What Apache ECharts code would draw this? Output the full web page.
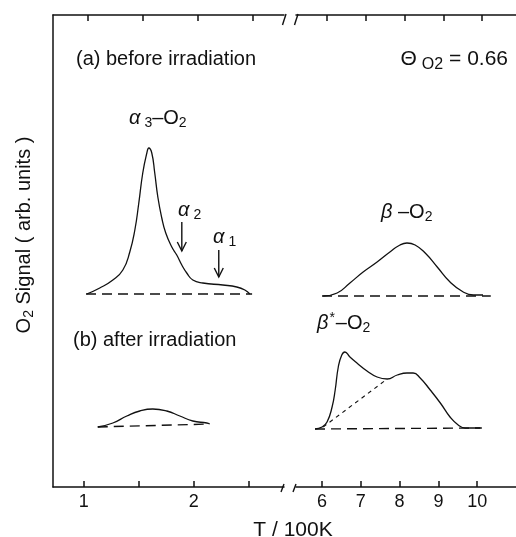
<!DOCTYPE html>
<html><head><meta charset="utf-8">
<script src="https://cdn.jsdelivr.net/npm/echarts@6/dist/echarts.min.js"></script>
<style>html,body{margin:0;padding:0;background:#fff}#c{width:516px;height:537px}</style>
</head><body><div id="c"></div>
<script>
// ---- data (T in 100 K, signal in arbitrary units) ----
const aLowT   = [1.027,1.145,1.264,1.355,1.418,1.464,1.500,1.536,1.573,1.591,1.618,1.645,1.673,1.709,1.745,1.800,1.845,1.891,1.936,1.991,2.082,2.264,2.391,2.464,2.509];
const aLowSig = [193,199,207,217,235,257,284,314,334,339,334,314,290,269,254,240,232,222,214,207,204,202,200,197,193];
const aLowBaseT = [1.02, 2.53];
const aLowBaseSig = [193, 193];

const bLowT   = [1.127,1.264,1.391,1.509,1.627,1.755,1.873,1.991,2.118,2.145];
const bLowSig = [60,64,71,76,78,76,71,66,64,63];
const bLowBaseT = [1.127, 2.145];
const bLowBaseSig = [60, 63];

const aHighT   = [6.03,6.39,6.72,7.06,7.42,7.75,8.01,8.19,8.40,8.66,8.97,9.30,9.64,9.90,10.15];
const aHighSig = [191,194,204,215,225,235,242,244,242,234,220,205,195,192,192];
const aHighBaseT = [6.0, 10.35];
const aHighBaseSig = [191, 191];

const bHighT   = [5.82,6.0,6.13,6.26,6.34,6.42,6.51,6.59,6.72,6.90,7.16,7.42,7.68,7.94,8.19,8.35,8.53,8.79,9.05,9.30,9.51,9.69,10.08];
const bHighSig = [58,60,65,80,97,120,132,135,130,124,116,110,108,112,114,114,109,97,84,70,62,59,59];
const bHighBaseT = [5.82, 10.12];
const bHighBaseSig = [58, 59];
const bHighSepT = [6.03, 7.68];
const bHighSepSig = [60, 108];

const lowTicks = [1, 1.5, 2, 2.5];
const lowLabels = [1, 2];
const highTicks = [6, 7, 8, 9, 10];
const highLabels = [6, 7, 8, 9, 10];

// ---- layout ----
const FONT = 'Liberation Sans, Arial, Helvetica, sans-serif';
const INK = '#111';
const G0 = {left: 53, top: 15, width: 231, height: 472};
const G1 = {left: 296, top: 15, right: 0, height: 472};

const zip = (xs, ys) => xs.map((x, i) => [x, ys[i]]);

const chart = echarts.init(document.getElementById('c'), null, {renderer: 'canvas'});

function xAx(grid, pos, min, max, ticks, labels) {
  return {
    type: 'value', gridIndex: grid, position: pos, min: min, max: max,
    axisLine: {show: true, onZero: false, lineStyle: {color: INK, width: 1.5}},
    axisTick: {show: true, inside: true, length: 6, customValues: ticks, lineStyle: {color: INK, width: 1.5}},
    axisLabel: labels ? {show: true, customValues: labels, margin: 6, color: INK, fontSize: 18, fontFamily: FONT,
      formatter: v => String(v)} : {show: false},
    splitLine: {show: false}
  };
}
function yAx(grid, showLine) {
  return {
    type: 'value', gridIndex: grid, min: 0, max: 472,
    axisLine: {show: showLine, lineStyle: {color: INK, width: 1.5}},
    axisTick: {show: false}, axisLabel: {show: false}, splitLine: {show: false}
  };
}
function ln(xi, yi, data, type, width) {
  return {
    type: 'line', xAxisIndex: xi, yAxisIndex: yi, data: data, showSymbol: false, symbol: 'none',
    smooth: type === 'solid' ? 0.5 : false,
    lineStyle: {color: INK, width: width || 1.3, type: type}, silent: true
  };
}

chart.setOption({
  animation: false,
  backgroundColor: '#fff',
  grid: [G0, G1],
  xAxis: [
    xAx(0, 'bottom', 0.72, 2.82, lowTicks, lowLabels),
    xAx(0, 'top', 0.684, 2.784, lowTicks, null),
    xAx(1, 'bottom', 5.33, 11.0, highTicks, highLabels),
    xAx(1, 'top', 5.2, 10.87, highTicks, null)
  ],
  yAxis: [yAx(0, true), yAx(1, false)],
  series: [
    ln(0, 0, zip(aLowT, aLowSig), 'solid'),
    ln(0, 0, zip(aLowBaseT, aLowBaseSig), [10, 6], 1.4),
    ln(0, 0, zip(bLowT, bLowSig), 'solid'),
    ln(0, 0, zip(bLowBaseT, bLowBaseSig), [10, 6], 1.4),
    ln(2, 1, zip(aHighT, aHighSig), 'solid'),
    ln(2, 1, zip(aHighBaseT, aHighBaseSig), [10, 6], 1.4),
    ln(2, 1, zip(bHighT, bHighSig), 'solid'),
    ln(2, 1, zip(bHighBaseT, bHighBaseSig), [10, 6], 1.4),
    ln(2, 1, zip(bHighSepT, bHighSepSig), [4, 4], 1.1)
  ]
});

// ---- annotations ----
const base = {fontSize: 20, fontFamily: FONT, fill: INK};
const rich = {
  n: {fontSize: 20, fontFamily: FONT, fill: INK},
  g: {fontSize: 20, fontFamily: FONT, fontStyle: 'italic', fill: INK},
  s: {fontSize: 14, fontFamily: FONT, fill: INK, padding: [10, 0, 0, 0]},
  sp: {fontSize: 14, fontFamily: FONT, fill: INK, padding: [10, 0, 0, 4]},
  u: {fontSize: 14, fontFamily: FONT, fill: INK, padding: [0, 1, 10, 1]},
  ts: {fontSize: 16, fontFamily: FONT, fill: INK, padding: [12, 0, 0, 5]},
  tn: {fontSize: 21, fontFamily: FONT, fill: INK}
};
function txt(x, y, text, align, extra) {
  return Object.assign({
    type: 'text', x: x, y: y, silent: true,
    style: Object.assign({text: text, rich: rich, align: align || 'left', verticalAlign: 'middle'}, base)
  }, extra || {});
}
function seg(p1, p2, w) {
  return {type: 'line', silent: true, shape: {x1: p1[0], y1: p1[1], x2: p2[0], y2: p2[1]},
    style: {stroke: INK, lineWidth: w || 1.4}};
}
function arrow(gridIdx, t, s0, s1) {
  const a = chart.convertToPixel({gridIndex: gridIdx}, [t, s0]);
  const b = chart.convertToPixel({gridIndex: gridIdx}, [t, s1]);
  return [
    seg(a, b, 1.4),
    {type: 'polyline', silent: true, shape: {points: [[b[0] - 4.5, b[1] - 9], b, [b[0] + 4.5, b[1] - 9]]},
      style: {stroke: INK, lineWidth: 1.4, fill: null}}
  ];
}

const L0 = G0.left + G0.width;      // left panel break edge
const R0 = G1.left;                 // right panel break edge
const topY = G0.top, botY = G0.top + G0.height;

const graphics = [
  txt(76, 59, '{n|(a) before irradiation}'),
  txt(508, 59, '{tn|Θ}{ts|O2}{tn| = 0.66}', 'right'),
  txt(129, 118, '{g|α}{sp|3}{n|–O}{s|2}'),
  txt(178, 210, '{g|α}{sp|2}'),
  txt(213, 237, '{g|α}{sp|1}'),
  txt(381, 212, '{g|β}{n| –O}{s|2}'),
  txt(73, 340, '{n|(b) after irradiation}'),
  txt(317, 323, '{g|β}{u|*}{n|–O}{s|2}'),
  txt(293, 530, '{tn|T / 100K}', 'center'),
  txt(24, 235, '{n|O}{s|2}{n| Signal ( arb. units )}', 'center', {rotation: Math.PI / 2}),
  // axis break marks
  seg([L0 - 1.5, topY + 10], [L0 + 2, topY - 1]),
  seg([R0 - 1.5, topY + 10], [R0 + 2, topY - 1]),
  seg([L0 - 3, botY + 5], [L0, botY - 3]),
  seg([R0 - 3, botY + 5], [R0, botY - 3])
].concat(arrow(0, 1.891, 265, 236), arrow(0, 2.227, 237, 210));

chart.setOption({graphic: graphics});
</script>
</body></html>
